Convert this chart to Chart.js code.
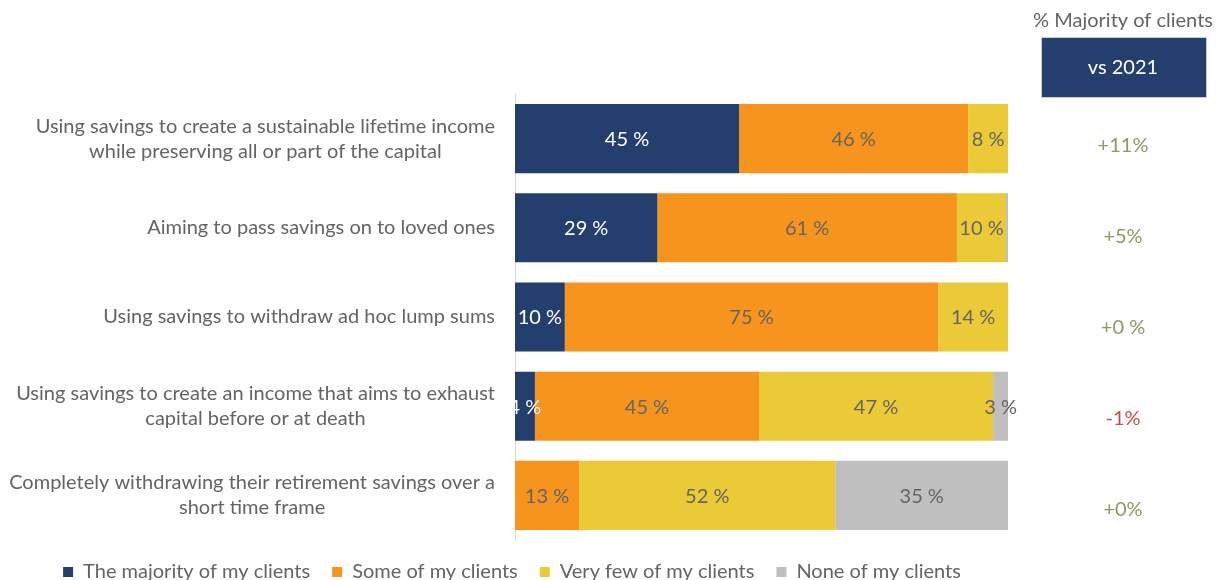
<!DOCTYPE html>
<html>
<head>
<meta charset="utf-8">
<title>Retirement savings use</title>
<script src="https://cdn.jsdelivr.net/npm/chart.js@4/dist/chart.umd.min.js"></script>
<style>
  html, body { margin: 0; padding: 0; background: #fff; }
  #wrap { width: 1222px; height: 580px; position: relative; }
</style>
</head>
<body>
<div id="wrap"><canvas id="usesChart"></canvas></div>
<script>
const categories = [
    ['Using savings to create a sustainable lifetime income', 'while preserving all or part of the capital'],
    ['Aiming to pass savings on to loved ones'],
    ['Using savings to withdraw ad hoc lump sums'],
    ['Using savings to create an income that aims to exhaust', 'capital before or at death'],
    ['Completely withdrawing their retirement savings over a', 'short time frame']
];
const seriesNames = ['The majority of my clients', 'Some of my clients', 'Very few of my clients', 'None of my clients'];
const majority = [45, 29, 10, 4, 0];
const some = [46, 61, 75, 45, 13];
const veryFew = [8, 10, 14, 47, 52];
const none = [0, 0.4, 0, 3, 35];
const changeVs2021 = ['+11%', '+5%', '+0 %', '-1%', '+0%'];

const seriesColors = ['#243F6E', '#F7941D', '#EACA37', '#BFBFBF'];
const textGray = '#646464';
const FONT = 'Lato, "Open Sans", sans-serif';

// bars fill 100% of the row, labels keep the survey figures
const series = [majority, some, veryFew, none];
const rowTotals = categories.map((_, i) => series.reduce((s, arr) => s + arr[i], 0));

const datasets = series.map((values, k) => ({
    label: seriesNames[k],
    data: values.map((v, i) => v / rowTotals[i] * 100),
    raw: values,
    backgroundColor: seriesColors[k],
    borderWidth: 0,
    categoryPercentage: 1,
    barPercentage: 0.775
}));

// category text: right aligned block, lines centred within it
const categoryLabels = {
    id: 'categoryLabels',
    afterDraw(chart) {
        const ctx = chart.ctx;
        const yScale = chart.scales.y;
        const right = chart.chartArea.left - 20;
        const lineH = 25;
        ctx.save();
        ctx.font = '20px ' + FONT;
        ctx.fillStyle = textGray;
        ctx.textAlign = 'center';
        ctx.textBaseline = 'middle';
        chart.data.labels.forEach((lines, i) => {
            const maxW = Math.max(...lines.map(l => ctx.measureText(l).width));
            const cx = right - maxW / 2;
            const cy = yScale.getPixelForValue(i);
            lines.forEach((line, j) => {
                ctx.fillText(line, cx, cy + (j - (lines.length - 1) / 2) * lineH);
            });
        });
        ctx.restore();
    }
};

// value text centred on each bar segment
const segmentLabels = {
    id: 'segmentLabels',
    afterDatasetsDraw(chart) {
        const ctx = chart.ctx;
        ctx.save();
        ctx.font = '20px ' + FONT;
        ctx.textAlign = 'center';
        ctx.textBaseline = 'middle';
        chart.data.datasets.forEach((ds, k) => {
            const meta = chart.getDatasetMeta(k);
            ctx.fillStyle = k === 0 ? '#ffffff' : textGray;
            meta.data.forEach((bar, i) => {
                const v = ds.raw[i];
                if (v < 1) return;
                ctx.fillText(v + ' %', (bar.x + bar.base) / 2, bar.y + 1);
            });
        });
        ctx.restore();
    }
};

// side column with the change against 2021
const changeColumn = {
    id: 'changeColumn',
    afterDraw(chart) {
        const ctx = chart.ctx;
        const yScale = chart.scales.y;
        const cx = 1123;
        ctx.save();
        ctx.textAlign = 'center';
        ctx.textBaseline = 'middle';
        ctx.font = '20px ' + FONT;
        ctx.fillStyle = textGray;
        ctx.fillText('% Majority of clients', cx, 21);

        ctx.fillStyle = seriesColors[0];
        ctx.fillRect(1041, 37, 165, 60);
        ctx.strokeStyle = '#c9ced8';
        ctx.lineWidth = 1;
        ctx.strokeRect(1041.5, 37.5, 165, 60);
        ctx.fillStyle = '#ffffff';
        ctx.fillText('vs 2021', cx, 68);

        changeVs2021.forEach((txt, i) => {
            ctx.fillStyle = txt.startsWith('-') ? '#C0504D' : '#8C9A64';
            ctx.fillText(txt, cx, yScale.getPixelForValue(i) + 7 + i * 1.8);
        });
        ctx.restore();
    }
};

const config = {
    type: 'bar',
    data: { labels: categories, datasets: datasets },
    options: {
        indexAxis: 'y',
        responsive: true,
        maintainAspectRatio: false,
        animation: false,
        layout: { padding: { top: 94, left: 16, right: 214, bottom: -12 } },
        scales: {
            x: { stacked: true, min: 0, max: 100, display: false },
            y: {
                stacked: true,
                grid: { display: false },
                ticks: { display: false },
                border: { display: true, color: '#d9d9d9', width: 1 },
                afterFit(scale) { scale.width = 499; }
            }
        },
        plugins: {
            tooltip: { enabled: false },
            legend: {
                position: 'bottom',
                labels: {
                    boxWidth: 10,
                    boxHeight: 10,
                    padding: 22,
                    color: textGray,
                    font: { family: FONT, size: 20 }
                }
            }
        }
    },
    plugins: [categoryLabels, segmentLabels, changeColumn]
};

const ctx = document.getElementById('usesChart').getContext('2d');
const chart = new Chart(ctx, config);
</script>
</body>
</html>
